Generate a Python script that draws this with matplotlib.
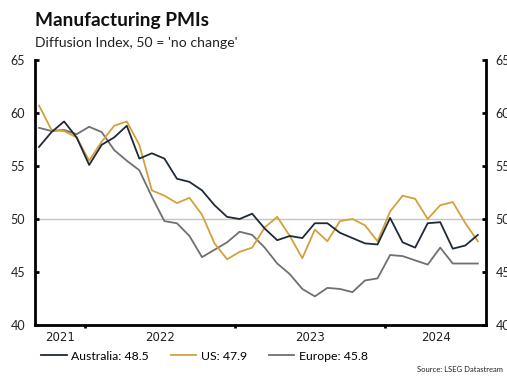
# Manufacturing PMIs - Australia, US, Europe
import numpy as np
import matplotlib
matplotlib.use("Agg")
import matplotlib.pyplot as plt

# Monthly data, Sep 2021 .. Aug 2024
australia = [56.8, 58.2, 59.2, 57.7, 55.1, 57.0, 57.7, 58.8, 55.7, 56.2, 55.7, 53.8,
             53.5, 52.7, 51.3, 50.2, 50.0, 50.5, 49.1, 48.0, 48.4, 48.2, 49.6, 49.6,
             48.7, 48.2, 47.7, 47.6, 50.1, 47.8, 47.3, 49.6, 49.7, 47.2, 47.5, 48.5]
us = [60.7, 58.4, 58.3, 57.7, 55.5, 57.3, 58.8, 59.2, 57.0, 52.7, 52.2, 51.5,
      52.0, 50.4, 47.7, 46.2, 46.9, 47.3, 49.2, 50.2, 48.4, 46.3, 49.0, 47.9,
      49.8, 50.0, 49.4, 47.9, 50.7, 52.2, 51.9, 50.0, 51.3, 51.6, 49.6, 47.9]
europe = [58.6, 58.3, 58.4, 58.0, 58.7, 58.2, 56.5, 55.5, 54.6, 52.1, 49.8, 49.6,
          48.4, 46.4, 47.1, 47.8, 48.8, 48.5, 47.3, 45.8, 44.8, 43.4, 42.7, 43.5,
          43.4, 43.1, 44.2, 44.4, 46.6, 46.5, 46.1, 45.7, 47.3, 45.8, 45.8, 45.8]
years = ["2021", "2022", "2023", "2024"]
yticks = [40, 45, 50, 55, 60, 65]

x = np.arange(len(australia))
xmin, xmax = -0.32, 35.65
year_edges = [3.63, 15.63, 27.63]
edges = [xmin] + year_edges + [xmax]
year_centers = [(edges[i] + edges[i + 1]) / 2 for i in range(len(years))]

c_aus = "#1f2a38"
c_us = "#d4a03c"
c_eu = "#707070"

plt.rcParams["font.family"] = ["Lato", "DejaVu Sans"]

fig = plt.figure(figsize=(5.07, 3.76), dpi=100)
ax = fig.add_axes([35 / 507, 51 / 376, 451 / 507, 265 / 376])

ax.axhline(50, color="#c4c4c4", lw=1.0, zorder=1)
ax.plot(x, europe, color=c_eu, lw=1.3, label=f"Europe: {europe[-1]}", zorder=2)
ax.plot(x, us, color=c_us, lw=1.3, label=f"US: {us[-1]}", zorder=3)
ax.plot(x, australia, color=c_aus, lw=1.3, label=f"Australia: {australia[-1]}", zorder=4)

ax.set_xlim(xmin, xmax)
ax.set_ylim(40, 65)
ax.set_yticks(yticks)
ax.set_yticklabels([str(v) for v in yticks])

for s in ["left", "right", "bottom"]:
    ax.spines[s].set_linewidth(2.0)
    ax.spines[s].set_color("black")
ax.spines["top"].set_visible(False)

ax.tick_params(axis="y", direction="in", length=3, width=2, labelsize=9,
               left=True, right=True, labelleft=True, labelright=True,
               pad=7, labelcolor="#222222")
ax.set_xticks(year_edges)
ax.set_xticklabels([])
ax.set_xticks(year_centers, minor=True)
ax.set_xticklabels(years, minor=True, fontsize=8.5, color="#222222",
                   family="DejaVu Sans")
ax.tick_params(axis="x", which="major", direction="out", length=2, width=2)
ax.tick_params(axis="x", which="minor", length=0, pad=4)

fig.text(35 / 507, 1 - 26 / 376, "Manufacturing PMIs", fontsize=13.8,
         fontweight="bold", color="#111111")
fig.text(35 / 507, 1 - 47 / 376, "Diffusion Index, 50 = 'no change'",
         fontsize=10.1, color="#222222")

handles, labels = ax.get_legend_handles_labels()
order = [2, 1, 0]
fig.legend([handles[i] for i in order], [labels[i] for i in order],
           loc="center left", bbox_to_anchor=(30 / 507, 1 - 356 / 376), ncol=3,
           frameon=False, fontsize=8.8, handlelength=2.1, handletextpad=0.35,
           columnspacing=1.8)

fig.text(503 / 507, 1 - 369 / 376, "Source: LSEG Datastream", fontsize=5.5,
         ha="right", va="center", color="#222222")

fig.savefig("out.png", dpi=100)
